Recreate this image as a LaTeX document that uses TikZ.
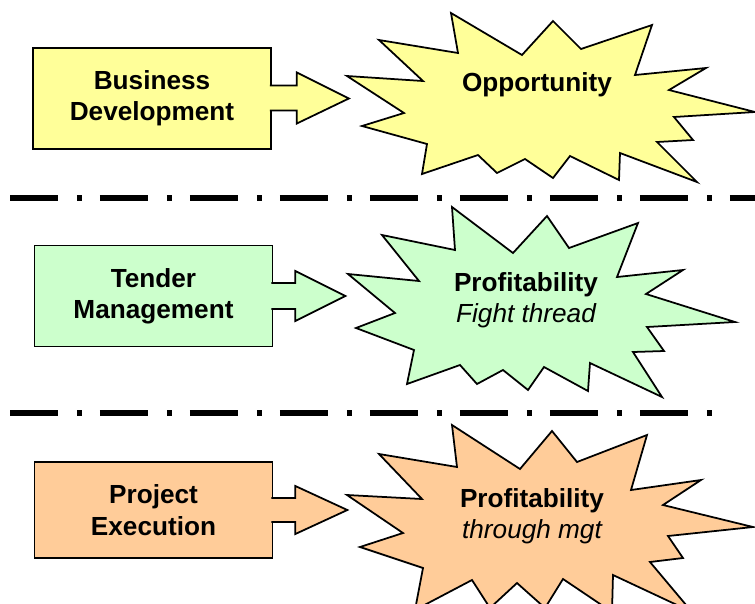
\documentclass[tikz,border=0pt]{standalone}
\usepackage{fontspec}
\setmainfont{Liberation Sans}
\usepackage{xcolor}

\definecolor{bizyellow}{RGB}{255,255,153}
\definecolor{tendgreen}{RGB}{204,255,204}
\definecolor{execorange}{RGB}{255,204,153}

\begin{document}
\begin{tikzpicture}
    [x=0.02cm,y=-0.02cm,line join=miter,
     rowbox/.style={draw,line width=1pt,minimum width=4.76cm,minimum height=2.02cm,
        align=center,font=\fontsize{14.9}{17.8}\selectfont\bfseries},
     blurb/.style={align=center,font=\fontsize{14.9}{17.8}\selectfont},
     burst/.style={draw,line width=1pt},
     divider/.style={line width=0.115cm,
        dash pattern=on 0.96cm off 0.38cm on 0.1cm off 0.36cm}]
\useasboundingbox (0,0) rectangle (755,603);
\clip (0,0) rectangle (755,603);

% left column
\path
    (152,98.5) node [rowbox,fill=bizyellow] (bizdev) {Business\\Development}
    (153.5,296) node [rowbox,fill=tendgreen] (tender) {Tender\\Management}
    (153.5,510) node [rowbox,fill=execorange,minimum height=1.92cm] (execution)
	{Project\\Execution};
\draw
    [fill=bizyellow,line width=1pt]
    (bizdev.east) ++(-2,-13) -- ++(27,0) -- ++(0,-13) -- ++(52,26) --
    ++(-52,25) -- ++(0,-13) -- ++(-27,0);
\draw
    [fill=tendgreen,line width=1pt]
    (tender.east) ++(-2,-13) -- ++(24,0) -- ++(0,-12) -- ++(50,25) --
    ++(-50,25) -- ++(0,-12) -- ++(-24,0);
\draw
    [fill=execorange,line width=1pt]
    (execution.east) ++(-2,-12) -- ++(24,0) -- ++(0,-12) -- ++(52,24) --
    ++(-52,24) -- ++(0,-12) -- ++(-24,0);

% bursts
\draw
    [burst,fill=bizyellow]
    (451,13) -- (522,55) -- (553,21) -- (581,49) -- (652,25) -- (635,75) --
    (706,68) -- (669,90) -- (755,112) -- (674,117) -- (693,140) -- (657,142) --
    (697,182) -- (620,153) -- (619,180) -- (570,156) -- (553,178) -- (525,159) --
    (497,173) -- (478,155) -- (422,174) -- (427,144) -- (362,126) -- (404,113) --
    (347,76) -- (423,81) -- (379,40) -- (458,53) -- cycle;
\draw
    [burst,fill=tendgreen]
    (452,207) -- (513,253) -- (547,216) -- (569,248) -- (638,223) -- (617,277) --
    (683,270) -- (646,294) -- (735,322) -- (647,327) -- (664,351) -- (633,352) --
    (662,397) -- (590,363) -- (588,391) -- (544,367) -- (528,390) -- (503,370) --
    (477,384) -- (460,365) -- (407,384) -- (414,350) -- (356,328) -- (395,313) --
    (348,274) -- (419,281) -- (382,235) -- (455,250) -- cycle;
\draw
    [burst,fill=execorange]
    (452,425) -- (520,469) -- (552,431) -- (577,462) -- (647,435) -- (631,490) --
    (701,480) -- (663,505) -- (753,527) -- (668,536) -- (683,558) -- (650,562) --
    (692,612) -- (613,575) -- (612,612) -- (563,579) -- (545,608) -- (517,583) --
    (490,608) -- (472,580) -- (415,610) -- (423,568) -- (360,547) -- (403,533) --
    (347,495) -- (422,499) -- (379,454) -- (457,467) -- cycle;
\path
    (537,85) node [blurb] (opportunity) {\bfseries Opportunity}
    (526,300) node [blurb] (fightthread) {\bfseries Profitability\\\itshape Fight thread}
    (532,516) node [blurb] (throughmgt) {\bfseries Profitability\\\itshape through mgt};

% dividers
\draw [divider] (10,198) -- (760,198);
\draw [divider] (10,413) -- (712,413);
\end{tikzpicture}
\end{document}
